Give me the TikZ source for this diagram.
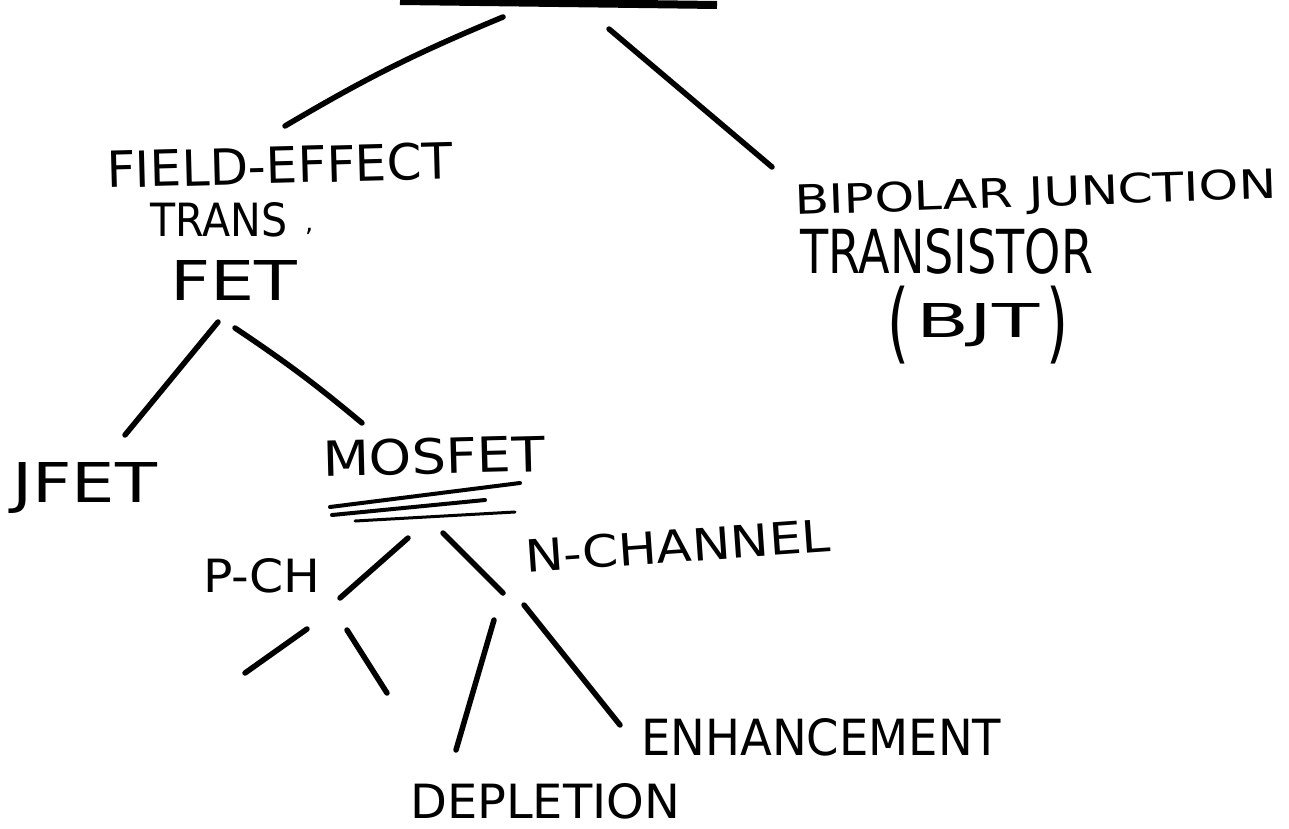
\documentclass[tikz,border=0pt]{standalone}
\usepackage{fontspec}
\usepackage{graphicx}
\setmainfont{DejaVu Sans}
\newcommand{\fitlab}[3]{\resizebox{#1pt}{#2pt}{#3}}
\begin{document}
\begin{tikzpicture}[x=1pt,y=-1pt,
  stroke/.style={line width=5.5pt,line cap=round},
  ul/.style={line width=4pt,line cap=round},
  lbl/.style={inner sep=0pt,anchor=base west,font=\fontsize{40}{40}\selectfont}]
\useasboundingbox (0,0) rectangle (1289,829);
% top bar
\coordinate (t1) at (400,1); \coordinate (t2) at (717,5);
\draw[line width=8pt] (t1) -- (t2);
% labels
\node[lbl,rotate=1.5] (fe) at (107,188) {\fitlab{346}{37}{FIELD-EFFECT}};
\node[lbl] (tr) at (150,236) {\fitlab{137}{34}{TRANS}\hspace{18pt}{\fontsize{26}{26}\selectfont\raisebox{5pt}{,}}};
\node[lbl] (fet) at (170,300) {\fitlab{127}{40}{FET}};
\node[lbl,rotate=2] (bj) at (795,215) {\fitlab{482}{30}{BIPOLAR JUNCTION}};
\node[lbl] (ts) at (800,273) {\fitlab{293}{45}{TRANSISTOR}};
\node[lbl] (bjt) at (887,337) {\raisebox{-15pt}{\resizebox*{22pt}{78pt}{(}}\hspace{7pt}\fitlab{123}{34}{BJT}\hspace{7pt}\raisebox{-15pt}{\resizebox*{22pt}{78pt}{)}}};
\node[lbl] (jfet) at (12,502) {\fitlab{145}{40}{JFET}};
\node[lbl,rotate=1.5] (mos) at (323,477) {\fitlab{222}{36}{MOSFET}};
\node[lbl] (pch) at (203,592) {\fitlab{117}{34}{P-CH}};
\node[lbl,rotate=4] (nch) at (526,573) {\fitlab{306}{33}{N-CHANNEL}};
\node[lbl] (enh) at (641,755) {\fitlab{360}{37}{ENHANCEMENT}};
\node[lbl] (dep) at (410,818) {\fitlab{270}{35}{DEPLETION}};
% connector end points
\coordinate (a1) at (503,17); \coordinate (a2) at (285,126);
\coordinate (b1) at (609,29); \coordinate (b2) at (772,167);
\coordinate (c1) at (218,322); \coordinate (c2) at (125,435);
\coordinate (d1) at (235,328); \coordinate (d2) at (362,423);
\coordinate (e1) at (408,538); \coordinate (e2) at (340,598);
\coordinate (f1) at (443,533); \coordinate (f2) at (503,593);
\coordinate (g1) at (307,629); \coordinate (g2) at (245,673);
\coordinate (h1) at (347,630); \coordinate (h2) at (387,693);
\coordinate (i1) at (494,620); \coordinate (i2) at (456,750);
\coordinate (j1) at (524,605); \coordinate (j2) at (620,725);
\coordinate (u1) at (330,507); \coordinate (u2) at (520,483);
\coordinate (v1) at (332,515); \coordinate (v2) at (485,500);
\coordinate (w1) at (355,521); \coordinate (w2) at (515,512);
\draw[stroke] (a1) to[bend right=4] (a2);
\draw[stroke] (b1) -- (b2);
\draw[stroke] (c1) -- (c2);
\draw[stroke] (d1) to[bend left=3] (d2);
\draw[stroke] (e1) -- (e2);
\draw[stroke] (f1) -- (f2);
\draw[stroke] (g1) -- (g2);
\draw[stroke] (h1) -- (h2);
\draw[stroke] (i1) -- (i2);
\draw[stroke] (j1) -- (j2);
\draw[ul] (u1) -- (u2);
\draw[ul] (v1) -- (v2);
\draw[ul,line width=3pt] (w1) -- (w2);
\end{tikzpicture}
\end{document}
